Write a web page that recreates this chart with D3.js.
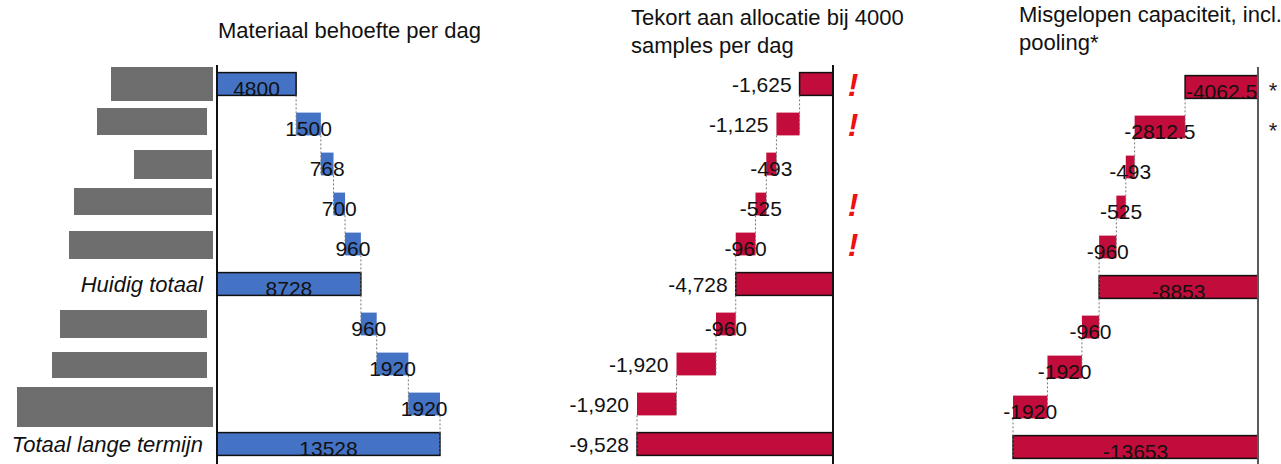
<!DOCTYPE html>
<html lang="nl">
<head>
<meta charset="utf-8">
<script src="https://d3js.org/d3.v7.min.js"></script>
<style>
  body { margin: 0; background: #fff; }
  svg { display: block; }
  text { font-family: "Liberation Sans", Arial, sans-serif; fill: #111; }
  .title { font-size: 22px; }
  .val { font-size: 21px; }
  .rowlab { font-size: 22px; font-style: italic; }
</style>
</head>
<body>
<svg width="1281" height="464"></svg>
<script>

// ---- data ----
var rowLabels = [null, null, null, null, null, "Huidig totaal", null, null, null, "Totaal lange termijn"];
var isTotal   = [true, false, false, false, false, true, false, false, false, true];

var demand   = [4800, 1500, 768, 700, 960, 8728, 960, 1920, 1920, 13528];
var shortage = [-1625, -1125, -493, -525, -960, -4728, -960, -1920, -1920, -9528];
var missed   = [-4062.5, -2812.5, -493, -525, -960, -8853, -960, -1920, -1920, -13653];

var warnRows = [0, 1, 3, 4];     // rows with a red "!"
var starRows = [0, 1];           // rows with a "*"

var titles = [
  ["Materiaal behoefte per dag"],
  ["Tekort aan allocatie bij 4000", "samples per dag"],
  ["Misgelopen capaciteit, incl.", "pooling*"]
];

// redacted category labels (grey blocks), layout only
var redactBoxes = [[111, 67, 102, 34], [97, 108, 110, 27], [134, 150, 78, 29], [74, 188, 138, 27],
                   [69, 231, 144, 28], null, [60, 310, 147, 28], [52, 352, 155, 26], [17, 387, 196, 40], null];

var svg = d3.select("svg");

var fmtComma = d3.formatLocale({decimal: ".", thousands: ",", grouping: [3], currency: ["", ""], minus: "-"}).format(",");

// running start/end for the waterfall
function waterfall(vals) {
  var run = 0;
  return vals.map(function(v, i) {
    var s = isTotal[i] ? 0 : run;
    var e = s + v;
    run = e;
    return {i: i, v: v, start: s, end: e, total: isTotal[i]};
  });
}

function drawPanel(o) {
  var data = waterfall(o.values);
  var y = d3.scaleBand().domain(d3.range(data.length)).range(o.yRange)
      .paddingInner(0.43).paddingOuter(0.215);
  var x = d3.scaleLinear().domain(o.domain).range(o.xRange);
  var g = svg.append("g");

  // clip paths for total labels
  var defs = svg.append("defs");
  data.filter(function(d) { return d.total; }).forEach(function(d) {
    defs.append("clipPath").attr("id", o.id + "clip" + d.i)
      .append("rect")
      .attr("x", Math.min(x(d.start), x(d.end)) - 40)
      .attr("y", y(d.i) - 5)
      .attr("width", Math.abs(x(d.end) - x(d.start)) + 80)
      .attr("height", y.bandwidth() + 5);
  });

  g.selectAll("rect.bar").data(data).enter().append("rect")
    .attr("class", "bar")
    .attr("x", function(d) { return Math.min(x(d.start), x(d.end)); })
    .attr("y", function(d) { return y(d.i); })
    .attr("width", function(d) { return Math.abs(x(d.end) - x(d.start)); })
    .attr("height", y.bandwidth())
    .attr("fill", o.color)
    .attr("stroke", function(d) { return d.total ? "#111" : "none"; })
    .attr("stroke-width", 1.5);

  // connectors
  g.selectAll("line.conn").data(data.slice(0, -1)).enter().append("line")
    .attr("x1", function(d) { return x(d.end); })
    .attr("x2", function(d) { return x(d.end); })
    .attr("y1", function(d) { return y(d.i) + y.bandwidth(); })
    .attr("y2", function(d) { return y(d.i + 1) + y.bandwidth(); })
    .attr("stroke", "#777")
    .attr("stroke-width", 1)
    .attr("stroke-dasharray", "2,2");

  // axis line
  g.append("line")
    .attr("x1", x(0)).attr("x2", x(0))
    .attr("y1", o.axisTop).attr("y2", 464)
    .attr("stroke", o.axisColor).attr("stroke-width", 2);

  // value labels
  g.selectAll("text.val").data(data).enter().append("text")
    .attr("class", "val")
    .each(function(d) {
      var t = d3.select(this);
      var mid = (x(d.start) + x(d.end)) / 2;
      if (o.outside && Math.abs(d.v) >= 1000) {
        t.attr("x", Math.min(x(d.start), x(d.end)) - 8)
         .attr("y", y(d.i) + y.bandwidth() / 2)
         .attr("dy", "0.36em")
         .attr("text-anchor", "end");
      } else {
        t.attr("x", mid)
         .attr("y", y(d.i) + y.bandwidth() + 1)
         .attr("text-anchor", "middle");
        if (d.total) t.attr("clip-path", "url(#" + o.id + "clip" + d.i + ")");
      }
      t.text(o.format(d.v));
    });

  // title
  var tt = svg.append("text").attr("class", "title")
    .attr("x", o.titleX).attr("y", o.titleY);
  o.title.forEach(function(line, k) {
    tt.append("tspan").attr("x", o.titleX).attr("y", o.titleY + k * 27.5).text(line);
  });

  return {x: x, y: y};
}

// left: demand
var left = drawPanel({id: "l", values: demand, domain: [0, 13528], xRange: [217, 440],
  yRange: [64, 464], color: "#4472c4", axisColor: "#111", axisTop: 65,
  format: function(v) { return String(v); }, outside: false,
  title: titles[0], titleX: 218, titleY: 38});

// middle: shortage
var mid = drawPanel({id: "m", values: shortage, domain: [-9528, 0], xRange: [637, 833],
  yRange: [64, 464], color: "#c20c3b", axisColor: "#111", axisTop: 65,
  format: fmtComma, outside: true,
  title: titles[1], titleX: 631, titleY: 25});

// right: missed capacity
var right = drawPanel({id: "r", values: missed, domain: [-13653, 0], xRange: [1013, 1258],
  yRange: [67, 467], color: "#c20c3b", axisColor: "#5a5a5a", axisTop: 67,
  format: function(v) { return String(v); }, outside: false,
  title: titles[2], titleX: 1019, titleY: 22});

// category labels (left side)
svg.selectAll("rect.redact").data(redactBoxes.filter(function(b) { return b; })).enter().append("rect")
  .attr("x", function(b) { return b[0]; }).attr("y", function(b) { return b[1]; })
  .attr("width", function(b) { return b[2]; }).attr("height", function(b) { return b[3]; })
  .attr("fill", "#6e6e6e");

svg.selectAll("text.rowlab").data(rowLabels.map(function(l, i) { return {l: l, i: i}; }).filter(function(d) { return d.l; }))
  .enter().append("text")
  .attr("class", "rowlab")
  .attr("x", 203)
  .attr("y", function(d) { return left.y(d.i) + left.y.bandwidth() / 2; })
  .attr("dy", "0.35em")
  .attr("text-anchor", "end")
  .text(function(d) { return d.l; });

// warning marks
svg.selectAll("text.warn").data(warnRows).enter().append("text")
  .attr("x", 853)
  .attr("y", function(i) { return mid.y(i) + mid.y.bandwidth() / 2 + 12; })
  .attr("text-anchor", "middle")
  .style("font-size", "32px").style("font-style", "italic").style("font-weight", "bold")
  .style("fill", "#ee1111")
  .text("!");

svg.selectAll("text.star").data(starRows).enter().append("text")
  .attr("x", 1273)
  .attr("y", function(i) { return right.y(i) + right.y.bandwidth() / 2; })
  .attr("dy", "0.5em")
  .attr("text-anchor", "middle")
  .style("font-size", "22px").style("fill", "#222")
  .text("*");

</script>
</body>
</html>
